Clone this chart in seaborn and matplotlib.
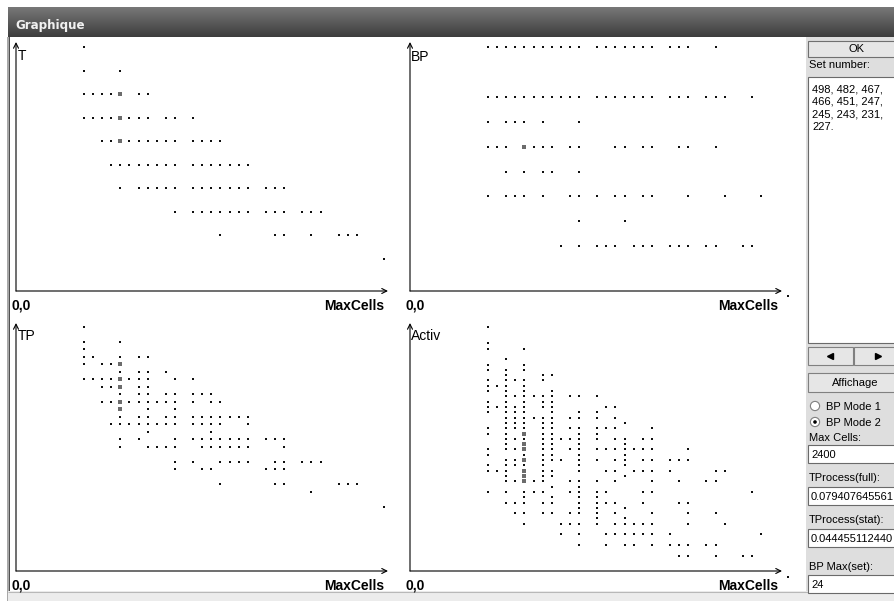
import matplotlib
matplotlib.use("Agg")
import matplotlib.pyplot as plt
from matplotlib.patches import Rectangle, Circle
import numpy as np
import pandas as pd
import seaborn as sns

# ---------------- data ----------------
# x = step on the cell-count grid, y = level of the plotted quantity
T_levels = [10, 9, 8, 7, 6, 5, 4, 3, 2, 1]
T_cells = [
    [0],
    [0, 4],
    [0, 1, 2, 3, 4, 6, 7],
    [0, 1, 2, 3, 4, 5, 6, 7, 9, 10, 12],
    [2, 3, 4, 5, 6, 7, 8, 9, 10, 12, 13, 14, 15],
    [3, 4, 5, 6, 7, 8, 9, 10, 12, 13, 14, 15, 16, 17, 18],
    [4, 6, 7, 8, 9, 10, 12, 13, 14, 15, 16, 17, 18, 20, 21, 22],
    [10, 12, 13, 14, 15, 16, 17, 18, 20, 21, 22, 24, 25, 26],
    [15, 21, 22, 25, 28, 29, 30],
    [33],
]
T_dense = [8, 7, 6]

BP_levels = [10, 8, 7, 6, 5, 4, 3, 2, 0]
BP_cells = [
    [0, 1, 2, 3, 4, 5, 6, 7, 8, 9, 10, 12, 13, 14, 15, 16, 17, 18, 20, 21, 22, 25],
    [0, 1, 2, 3, 4, 5, 6, 7, 8, 9, 10, 12, 13, 14, 15, 16, 17, 18, 20, 21, 22, 24, 25, 26, 29],
    [0, 2, 3, 4, 6, 10],
    [0, 1, 2, 4, 5, 6, 7, 9, 10, 14, 15, 17, 18, 21, 22, 25],
    [2, 4, 6, 7, 10],
    [0, 2, 3, 4, 6, 9, 10, 12, 14, 15, 17, 18, 22, 26, 30],
    [10, 15],
    [8, 10, 12, 13, 14, 16, 17, 18, 20, 21, 22, 24, 25, 28, 29],
    [33],
]
BP_dense = [6]

TP_levels = [33, 31, 30, 29, 28, 27, 26, 25, 24, 23, 22, 21, 20, 19, 18, 17, 15, 14, 12, 11, 9]
TP_cells = [
    [0],
    [0, 4],
    [0],
    [0, 1, 4, 6, 7],
    [0, 2, 3, 4],
    [4, 6, 7, 9],
    [0, 1, 2, 3, 4, 5, 6, 7, 10, 12],
    [2, 3, 4, 6, 7],
    [4, 6, 7, 9, 10, 12, 13, 14],
    [2, 3, 4, 5, 6, 7, 8, 9, 10, 12, 14, 15],
    [4, 7, 10],
    [4, 6, 7, 9, 10, 12, 13, 14, 15, 16, 17, 18],
    [3, 4, 5, 6, 7, 8, 9, 10, 12, 13, 14, 15, 18],
    [7, 14],
    [4, 6, 10, 12, 13, 14, 15, 16, 17, 18, 20, 21, 22],
    [4, 7, 8, 9, 10, 13, 14, 15, 16, 17, 18, 22],
    [10, 12, 15, 16, 17, 18, 21, 22, 24, 25, 26],
    [10, 13, 14, 20, 21, 22],
    [15, 21, 22, 28, 29, 30],
    [25],
    [33],
]
TP_dense = [28, 26, 25, 23, 22]

ACT_levels = [47, 44, 43, 41, 40, 39, 38, 37, 36, 35, 34, 33, 32, 31, 30, 29, 28, 27, 26,
              25, 24, 23, 22, 21, 20, 19, 18, 17, 16, 15, 14, 13, 12, 11, 10, 8, 6, 4, 0]
ACT_cells = [
    [0],
    [0],
    [0, 4],
    [2],
    [0, 4],
    [0, 2, 4],
    [2, 6, 7],
    [0, 2, 3, 4, 6],
    [0, 1, 2, 4],
    [0, 2, 4, 7],
    [2, 3, 4, 5, 6, 7, 9, 10, 12],
    [0, 2, 4, 6, 7],
    [0, 1, 2, 3, 4, 6, 7, 13, 14],
    [0, 2, 3, 4, 7, 10, 12],
    [2, 3, 4, 5, 6, 7, 9, 10, 12, 14],
    [2, 3, 4, 6, 7, 15],
    [0, 2, 3, 4, 6, 7, 9, 10, 12, 13, 14, 18],
    [0, 2, 4, 6, 7, 10, 12],
    [2, 3, 4, 6, 7, 8, 9, 10, 12, 14, 15, 17, 18],
    [2, 4, 6, 7, 10, 15],
    [0, 2, 3, 4, 6, 7, 9, 10, 12, 13, 14, 15, 16, 17, 18, 22],
    [0, 4, 6, 7, 10, 15],
    [2, 3, 4, 6, 7, 8, 10, 12, 14, 15, 17, 18, 20, 21, 22],
    [0, 2, 3, 4, 6, 10, 15],
    [0, 1, 2, 4, 6, 7, 10, 13, 14, 16, 17, 18, 20, 25, 26],
    [2, 4, 6, 7, 15],
    [2, 3, 4, 5, 6, 9, 10, 12, 14, 18, 21, 24, 25],
    [7, 10],
    [0, 2, 4, 5, 6, 9, 10, 12, 13, 17, 18, 29],
    [4, 7, 10, 12],
    [2, 3, 4, 6, 7, 10, 12, 13, 14, 17, 21, 22],
    [10, 12, 15],
    [3, 4, 6, 7, 9, 10, 12, 14, 18, 22, 25],
    [12, 15],
    [4, 8, 9, 10, 12, 14, 15, 16, 17, 18, 22, 26],
    [8, 10, 13, 14, 15, 16, 17, 18, 20, 30],
    [10, 13, 15, 16, 18, 20, 21, 22, 24, 25],
    [21, 22, 25, 28, 29],
    [33],
]
ACT_dense = [27, 25, 24, 22, 20, 19, 18]
DENSE_CELL = 4

set_numbers = ["498, 482, 467,", "466, 451, 247,", "245, 243, 231,", "227."]
max_cells = "2400"
tprocess_full = "0.079407645561"
tprocess_stat = "0.044455112440"
bp_max = "24"

# ---------------- figure / window chrome ----------------
W, H = 895, 601
UI = "Liberation Sans"
fig = plt.figure(figsize=(W / 100, H / 100), dpi=100)
fig.patch.set_facecolor("white")
bg = fig.add_axes([0, 0, 1, 1])
bg.axis("off")


def rect(x0, y0, x1, y1, fc, ec="none", lw=0.0, z=1):
    bg.add_patch(Rectangle((x0, y0), x1 - x0, y1 - y0, facecolor=fc,
                           edgecolor=ec, linewidth=lw, zorder=z))


def hline(y, x0, x1, c, lw=0.75, z=3):
    bg.plot([x0, x1], [y, y], color=c, lw=lw, zorder=z, solid_capstyle="butt")


grad = np.linspace(0.47, 0.24, 60).reshape(-1, 1)
bg.imshow(grad, extent=[8, W, 37, 7], aspect="auto", cmap="gray",
          vmin=0, vmax=1, zorder=1, interpolation="bilinear")
bg.set_xlim(0, W)
bg.set_ylim(H, 0)
bg.text(15, 28.5, "Graphique", color="#f0f0f0", fontsize=8.6, fontweight="bold",
        family="DejaVu Sans", va="baseline", ha="left", zorder=4)

# left frame
rect(7.5, 37, 9.2, H, "#a8a8a8", z=2)
rect(9.2, 37, 10.4, H, "#505050", z=2)
# bottom strip
rect(8, 591, W, H, "#ececec", z=2)
hline(591.5, 8, W, "#b8b8b8")
# right control panel
rect(806, 37, W, 591, "#dedede", z=2)

# OK button
rect(808, 41, 905, 57, "#e6e6e6", ec="#707070", lw=0.8, z=3)
bg.text(857, 52.5, "OK", family=UI, fontsize=8, ha="center", va="baseline", zorder=4)
bg.text(809, 68.5, "Set number:", family=UI, fontsize=8, ha="left", va="baseline", zorder=4)
# list box
rect(808, 77, 905, 343, "white", ec="#6a6a6a", lw=0.8, z=3)
for i, line in enumerate(set_numbers):
    bg.text(812, 92 + 12.7 * i, line, family=UI, fontsize=8, ha="left",
            va="baseline", zorder=4)
# scroll buttons
rect(808, 347, 853, 365, "#e6e6e6", ec="#808080", lw=0.8, z=3)
rect(854, 347, 905, 365, "#e6e6e6", ec="#808080", lw=0.8, z=3)
bg.plot([830], [356], marker="<", color="black", ms=4.5, zorder=4)
bg.plot([878], [356], marker=">", color="black", ms=4.5, zorder=4)
# Affichage
rect(808, 373, 905, 392, "#e6e6e6", ec="#808080", lw=0.8, z=3)
bg.text(855, 386, "Affichage", family=UI, fontsize=8, ha="center", va="baseline", zorder=4)
# radios
for yy, lab, sel in [(406, "BP Mode 1", False), (422, "BP Mode 2", True)]:
    bg.add_patch(Circle((815, yy), 4.6, facecolor="white", edgecolor="#808080",
                        linewidth=0.8, zorder=4))
    if sel:
        bg.add_patch(Circle((815, yy), 1.8, facecolor="black", edgecolor="none", zorder=5))
    bg.text(826, yy + 4, lab, family=UI, fontsize=8, ha="left", va="baseline", zorder=4)

fields = [("Max Cells:", 437, max_cells, 445, 463),
          ("TProcess(full):", 477, tprocess_full, 487, 505),
          ("TProcess(stat):", 519, tprocess_stat, 529, 547),
          ("BP Max(set):", 566, bp_max, 575, 593)]
for lab, ly, val, y0, y1 in fields:
    bg.text(809, ly + 4, lab, family=UI, fontsize=8, ha="left", va="baseline", zorder=4)
    rect(808, y0, 905, y1, "white", ec="#6a6a6a", lw=0.8, z=3)
    bg.text(811, (y0 + y1) / 2 + 4, val, family=UI, fontsize=8, ha="left",
            va="baseline", zorder=4)

# ---------------- scatter panels ----------------
COL_STEP = 9.1
DOT_S = (2 * 0.72) ** 2      # 2 px square
DENSE_S = (4 * 0.72) ** 2    # 4 px square
panels = [
    ("T", T_levels, T_cells, T_dense, (16, 42, 388, 291), 84.0, 282.6, 23.56, (18, 60)),
    ("BP", BP_levels, BP_cells, BP_dense, (410, 42, 782, 291), 488.0, 296.0, 24.9, (411, 61)),
    ("TP", TP_levels, TP_cells, TP_dense, (16, 323, 388, 571), 84.0, 574.2, 7.5, (18, 340)),
    ("Activ", ACT_levels, ACT_cells, ACT_dense, (410, 323, 782, 571), 488.0, 576.9, 5.31, (411, 340)),
]

for name, levels, cells, dense, box, col0, lvl0, step, labpos in panels:
    x0, yt, x1, yb = box
    df = pd.DataFrame([(c, lv) for lv, row in zip(levels, cells) for c in row],
                      columns=["cells", "level"])
    dd = pd.DataFrame({"cells": [DENSE_CELL] * len(dense), "level": dense})
    ax = fig.add_axes([x0 / W, 1 - yb / H, (x1 - x0) / W, (yb - yt) / H])
    sns.scatterplot(data=df, x="cells", y="level", ax=ax, marker="s", s=DOT_S,
                    color="#101010", edgecolor="none", legend=False, clip_on=False,
                    zorder=3, antialiased=False)
    sns.scatterplot(data=dd, x="cells", y="level", ax=ax, marker="s", s=DENSE_S,
                    color="#6c6c6c", edgecolor="none", legend=False, clip_on=False,
                    zorder=4, antialiased=False)
    ax.set_xlim((x0 - col0) / COL_STEP, (x1 - col0) / COL_STEP)
    ax.set_ylim((lvl0 - yb) / step, (lvl0 - yt) / step)
    ax.axis("off")
    ap = dict(arrowstyle="->,head_length=0.6,head_width=0.3", lw=0.8, color="black",
              shrinkA=0, shrinkB=0, mutation_scale=6)
    ax.annotate("", xy=(1, 0), xytext=(0, 0), xycoords="axes fraction", arrowprops=ap,
                annotation_clip=False)
    ax.annotate("", xy=(0, 1), xytext=(0, 0), xycoords="axes fraction", arrowprops=ap,
                annotation_clip=False)
    bg.text(labpos[0], labpos[1], name, family=UI, fontsize=10, ha="left",
            va="baseline", zorder=4)
    bg.text(x0 - 4, yb + 18.5, "0,0", family=UI, fontsize=10,
            fontweight="bold", ha="left", va="baseline", zorder=4)
    bg.text(x1 - 4, yb + 18.5, "MaxCells", family=UI, fontsize=10,
            fontweight="bold", ha="right", va="baseline", zorder=4)

fig.savefig("out.png", dpi=100, facecolor="white")
